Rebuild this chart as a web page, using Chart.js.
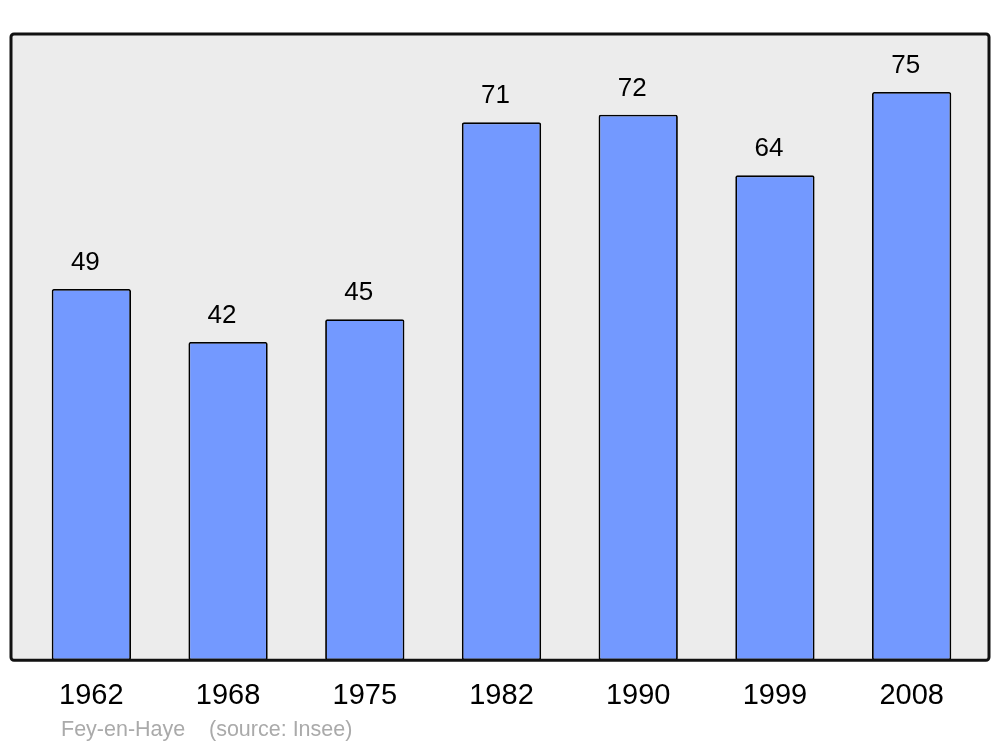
<!DOCTYPE html>
<html lang="fr">
<head>
  <meta charset="UTF-8" />
  <title>Fey-en-Haye population</title>
  <script src="https://cdn.jsdelivr.net/npm/chart.js"></script>
  <style>
    html, body {
      margin: 0;
      padding: 0;
      background: #fff;
    }
    #wrap {
      width: 1000px;
      height: 747px;
    }
  </style>
</head>
<body>
  <div id="wrap"><canvas id="chart" width="1000" height="747"></canvas></div>

  <script>
    const years = ["1962", "1968", "1975", "1982", "1990", "1999", "2008"];
    const population = [49, 42, 45, 71, 72, 64, 75];
    const townName = "Fey-en-Haye";
    const sourceNote = "(source: Insee)";

    // grey panel with dark rounded frame behind the bars
    const framePlugin = {
      id: "frame",
      beforeDatasetsDraw(chart) {
        const a = chart.chartArea, ctx = chart.ctx;
        ctx.save();
        ctx.beginPath();
        ctx.roundRect(a.left - 12, a.top, a.right - a.left + 21, a.bottom - a.top, 3);
        ctx.fillStyle = "#ececec";
        ctx.fill();
        ctx.restore();
      },
      afterDatasetsDraw(chart) {
        const a = chart.chartArea, ctx = chart.ctx;
        ctx.save();
        ctx.beginPath();
        ctx.roundRect(a.left - 12, a.top, a.right - a.left + 21, a.bottom - a.top, 3);
        ctx.lineWidth = 3;
        ctx.strokeStyle = "#111";
        ctx.stroke();

        // values above bars
        ctx.fillStyle = "#000";
        ctx.font = "26px 'Liberation Sans', Arial, sans-serif";
        ctx.textAlign = "center";
        ctx.textBaseline = "alphabetic";
        chart.getDatasetMeta(0).data.forEach((bar, i) => {
          ctx.fillText(String(population[i]), bar.x - 6, bar.y - 19);
        });

        // footer
        ctx.fillStyle = "#aaaaaa";
        ctx.font = "21.5px 'Liberation Sans', Arial, sans-serif";
        ctx.textAlign = "left";
        ctx.textBaseline = "middle";
        ctx.fillText(townName, 61, 730);
        ctx.fillText(sourceNote, 209, 730);
        ctx.restore();
      }
    };

    new Chart(document.getElementById("chart"), {
      type: "bar",
      data: {
        labels: years,
        datasets: [{
          data: population,
          backgroundColor: "#7399ff",
          borderColor: "#000",
          borderWidth: 1.8,
          borderRadius: 2,
          borderSkipped: false,
          categoryPercentage: 1,
          barPercentage: 0.58
        }]
      },
      options: {
        responsive: false,
        animation: false,
        layout: { padding: { left: 23, right: 20, top: 34, bottom: 16 } },
        plugins: {
          legend: { display: false },
          tooltip: { enabled: false }
        },
        scales: {
          x: {
            grid: { display: false, drawTicks: false },
            border: { display: false },
            ticks: {
              color: "#000",
              padding: 18,
              font: { family: "'Liberation Sans', Arial, sans-serif", size: 29 }
            }
          },
          y: {
            display: false,
            min: 0,
            max: 82.66
          }
        }
      },
      plugins: [framePlugin]
    });
  </script>
</body>
</html>
